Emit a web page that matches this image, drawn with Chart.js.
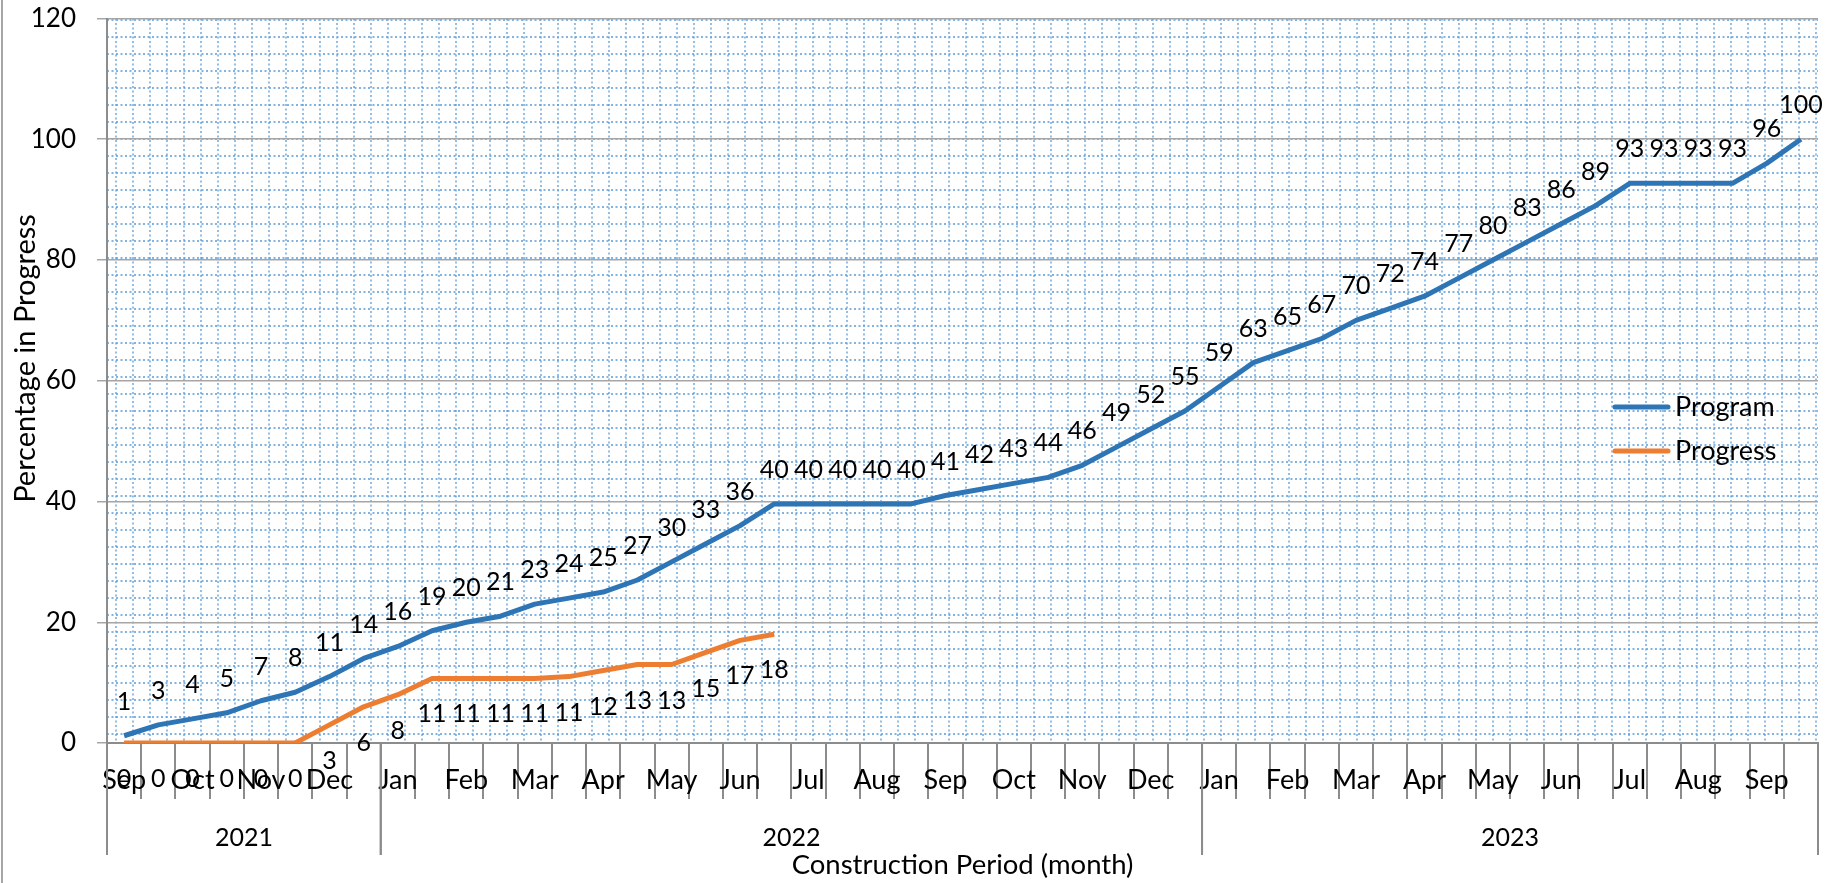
<!DOCTYPE html>
<html>
<head>
<meta charset="utf-8">
<script src="https://cdn.jsdelivr.net/npm/chart.js@4.4.1/dist/chart.umd.min.js"></script>
<style>
  html, body { margin: 0; padding: 0; background: #fff; }
  #wrap { position: relative; width: 1832px; height: 883px; }
  #frame { position: absolute; left: 1px; top: 0; width: 2px; height: 883px; background: #a6a6a6; }
</style>
</head>
<body>
<div id="wrap">
  <canvas id="chartOne" width="1832" height="883"></canvas>
  <div id="frame"></div>
</div>
<script>
// two points per month, Sep 2021 - Sep 2023
var months = ["Sep", "Oct", "Nov", "Dec",
    "Jan", "Feb", "Mar", "Apr", "May", "Jun", "Jul", "Aug", "Sep", "Oct", "Nov", "Dec",
    "Jan", "Feb", "Mar", "Apr", "May", "Jun", "Jul", "Aug", "Sep"]
var years = ["2021", "2022", "2023"]
var monthsPerYear = [4, 12, 9]

var program = [1.2, 3, 4, 5, 7, 8.4, 11, 14, 16, 18.6,
    20, 21, 23, 24, 25, 27, 30, 33, 36, 39.6,
    39.6, 39.6, 39.6, 39.6, 41, 42, 43, 44, 46, 49,
    52, 55, 59, 63, 65, 67, 70, 72, 74, 77,
    80, 83, 86, 89, 92.7, 92.7, 92.7, 92.7, 96, 100]
var progress = [0, 0, 0, 0, 0, 0, 3, 6, 8, 10.7,
    10.7, 10.7, 10.7, 11, 12, 13, 13, 15, 17, 18]

var yTicks = [0, 20, 40, 60, 80, 100, 120]

var labels = []
months.forEach(function (m) { labels.push(m, "") })

var font = "Lato"
var axisGray = "#8c8c8c"

// graph-paper background of the plot area
var paperGrid = {
    id: "paperGrid",
    beforeDraw: function (chart) {
        var ctx = chart.ctx, a = chart.chartArea
        ctx.save()
        ctx.strokeStyle = "#5b9bd5"
        ctx.lineWidth = 1.3
        ctx.setLineDash([2, 2.5])
        ctx.beginPath()
        for (var x = a.left + 9; x < a.right; x += 17) {
            ctx.moveTo(x, a.top); ctx.lineTo(x, a.bottom)
        }
        for (var y = a.top + 1.5; y < a.bottom; y += 17) {
            ctx.moveTo(a.left, y); ctx.lineTo(a.right, y)
        }
        ctx.stroke()
        ctx.restore()
    }
}

// value labels: Program above, Progress below
var pointLabels = {
    id: "pointLabels",
    afterDatasetsDraw: function (chart) {
        var ctx = chart.ctx
        ctx.save()
        ctx.font = "25px " + font
        ctx.fillStyle = "#000"
        ctx.textAlign = "center"
        ctx.textBaseline = "middle"
        chart.data.datasets.forEach(function (ds, i) {
            var shift = i === 0 ? -34 : 36
            chart.getDatasetMeta(i).data.forEach(function (pt, j) {
                ctx.fillText(Math.round(ds.data[j]), pt.x, pt.y + shift)
            })
        })
        ctx.restore()
    }
}

// year row under the months, and the legend inside the plot
var extras = {
    id: "extras",
    afterDraw: function (chart) {
        var ctx = chart.ctx, a = chart.chartArea, xs = chart.scales.x
        var half = (xs.getPixelForValue(1) - xs.getPixelForValue(0)) / 2
        ctx.save()
        ctx.strokeStyle = axisGray
        ctx.lineWidth = 2
        ctx.fillStyle = "#000"
        ctx.font = "25px " + font
        ctx.textAlign = "center"
        ctx.textBaseline = "middle"
        var start = 0
        years.forEach(function (yr, i) {
            var end = start + monthsPerYear[i] * 2
            var x0 = xs.getPixelForValue(start) - half
            var x1 = xs.getPixelForValue(end - 1) + half
            ctx.beginPath()
            ctx.moveTo(x0, a.bottom); ctx.lineTo(x0, a.bottom + 112)
            ctx.moveTo(x1, a.bottom); ctx.lineTo(x1, a.bottom + 112)
            ctx.stroke()
            ctx.fillText(yr, (x0 + x1) / 2, a.bottom + 95)
            start = end
        })

        ctx.font = "27px " + font
        ctx.textAlign = "left"
        ctx.lineWidth = 5
        ctx.lineCap = "round"
        chart.data.datasets.forEach(function (ds, i) {
            var y = a.top + 388.5 + i * 44
            ctx.strokeStyle = ds.borderColor
            ctx.beginPath()
            ctx.moveTo(a.right - 203, y); ctx.lineTo(a.right - 150, y)
            ctx.stroke()
            ctx.fillText(ds.label, a.right - 143, y)
        })
        ctx.restore()
    }
}

var getChartOne = document.getElementById("chartOne")

var chartOne = new Chart(getChartOne, {
    type: "line",
    data: {
        labels: labels,
        datasets: [{
            label: "Program",
            data: program,
            borderColor: "#2e75b6",
            borderWidth: 5,
            pointRadius: 0,
            borderJoinStyle: "round"
        }, {
            label: "Progress",
            data: progress,
            borderColor: "#ed7d31",
            borderWidth: 5,
            pointRadius: 0,
            borderJoinStyle: "round"
        }]
    },
    options: {
        responsive: false,
        animation: false,
        devicePixelRatio: 1,
        layout: { padding: { top: 18.5, right: 14, left: 0, bottom: 0 } },
        plugins: {
            legend: { display: false },
            tooltip: { enabled: false }
        },
        scales: {
            x: {
                offset: true,
                grid: { offset: true, drawOnChartArea: false, tickLength: 56, color: axisGray, lineWidth: 2 },
                border: { color: axisGray, width: 2 },
                ticks: { autoSkip: false, maxRotation: 0, minRotation: 0, padding: -35, color: "#000", font: { family: font, size: 27 } },
                title: {
                    display: true,
                    text: "Construction Period (month)",
                    color: "#000",
                    font: { family: font, size: 27.5 },
                    padding: { top: 0, bottom: 1.5 }
                },
                afterFit: function (axis) {
                    axis.height = 140
                    axis.paddingLeft = 0
                    axis.paddingRight = 0
                }
            },
            y: {
                min: 0,
                max: 120,
                afterBuildTicks: function (axis) {
                    axis.ticks = yTicks.map(function (v) { return { value: v } })
                },
                grid: { color: "#a6a6a6", lineWidth: 1.5, tickLength: 10 },
                border: { color: axisGray, width: 2 },
                ticks: { padding: 21, color: "#000", font: { family: font, size: 26 } },
                title: {
                    display: true,
                    text: "      Percentage in Progress",
                    color: "#000",
                    font: { family: font, size: 29 },
                    padding: { top: 8, bottom: 0 }
                },
                afterFit: function (axis) {
                    axis.width = 107
                    axis.paddingTop = 0
                    axis.paddingBottom = 0
                }
            }
        }
    },
    plugins: [paperGrid, pointLabels, extras]
})
</script>
</body>
</html>
